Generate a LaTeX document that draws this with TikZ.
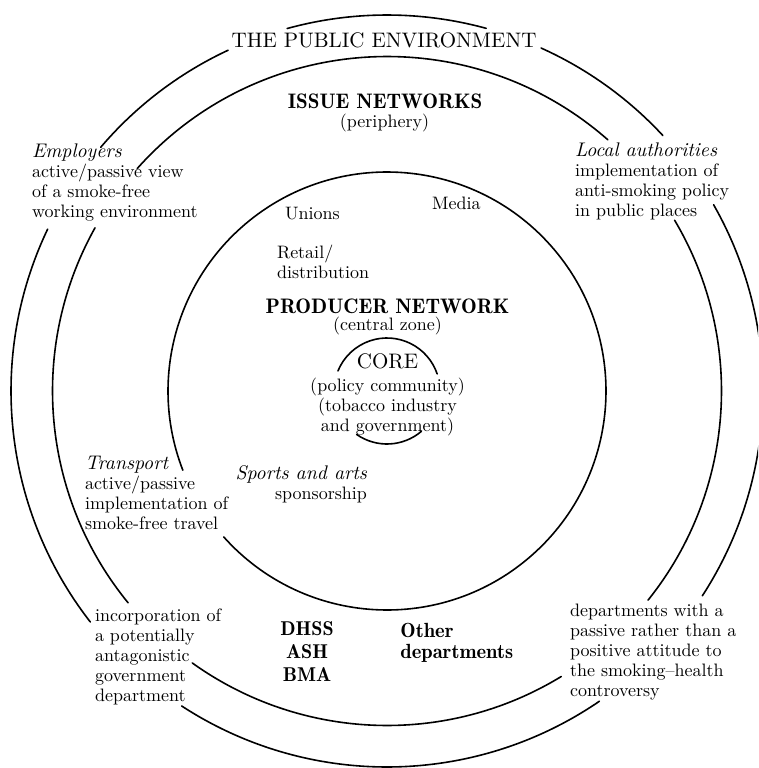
\documentclass[tikz,border=0pt]{standalone}
\usepackage{tikz}
\newcommand\fstrut{\rule{0pt}{8.333pt}}
\newcommand\ringarc[3]{\draw[ring] ([shift={(#1:#3pt)}]O) arc[start angle=#1, end angle=#2, radius=#3pt];}
\tikzset{
  ring/.style={line width=1.6pt, line cap=round},
  body/.style={font=\fontsize{10}{11.111}\selectfont, scale=1.8, inner sep=0pt, outer sep=0pt},
  titlefont/.style={font=\fontsize{10}{12}\selectfont, scale=2.1, inner sep=0pt},
  demi/.style={font=\fontsize{10}{12}\fontseries{b}\selectfont, scale=2.1, inner sep=0pt},
  demis/.style={font=\fontsize{10}{11.5}\fontseries{b}\selectfont, scale=2.0, inner sep=0pt},
  demio/.style={font=\fontsize{10}{10.5}\fontseries{b}\selectfont, scale=2.05, inner sep=0pt},
  corefont/.style={font=\fontsize{10}{12}\selectfont, scale=2.1, inner sep=0pt},
}
\newcommand\itl[1]{{\fontsize{10.95}{11.111}\selectfont\itshape #1}}
\begin{document}
\begin{tikzpicture}[x=1pt,y=1pt]
\fill[white] (0,0) rectangle (758,-768);
\useasboundingbox (0,0) rectangle (758,-768);
\clip (0,0) rectangle (758,-768);
\coordinate (O) at (387,-391);
% outer ring
\ringarc{74.7}{105.4}{376}
\ringarc{42.8}{65.8}{376}
\ringarc{-33}{29.7}{376}
\ringarc{236.9}{304.4}{376}
\ringarc{154.5}{217.9}{376}
\ringarc{115}{139.6}{376}
% middle ring
\ringarc{48.7}{138.3}{334.5}
\ringarc{150.8}{219.3}{334.5}
\ringarc{234.4}{301.4}{334.5}
\ringarc{-38.7}{30.7}{334.5}
% inner ring
\ringarc{221.8}{561.2}{219}
% core
\ringarc{18.8}{157.8}{53}
\ringarc{235}{310.5}{53}

% texts
\node[titlefont, anchor=base] (title) at (384,-48) {THE PUBLIC ENVIRONMENT};
\node[demi, anchor=base] (issue) at (385,-108) {ISSUE NETWORKS};
\node[body, anchor=base] (periph) at (384.5,-127) {(periphery)};
\node[body, anchor=base west] (unions) at (285,-219) {Unions};
\node[body, anchor=base west] (media) at (432,-209) {Media};
\node[body, align=left, anchor=north west] (retail) at (277,-243) {\fstrut Retail/\\distribution};
\node[demi, anchor=base] (producer) at (387.5,-313) {PRODUCER NETWORK};
\node[body, anchor=base] (central) at (387.5,-330) {(central zone)};
\node[corefont, anchor=base] (core) at (387.5,-368) {CORE};
\node[body, align=center, anchor=north] (coresub) at (387.5,-376) {\fstrut(policy community)\\(tobacco industry\\and government)};

\node[body, align=left, anchor=north west] (employers) at (32,-142)
  {\fstrut\itl{Employers}\\active/passive view\\of a smoke-free\\working environment};
\node[body, align=left, anchor=north west] (local) at (575,-141)
  {\fstrut\itl{Local authorities}\\implementation of\\anti-smoking policy\\in public places};
\node[body, align=left, anchor=north west] (transport) at (85,-454)
  {\fstrut\itl{Transport}\\active/passive\\implementation of\\smoke-free travel};
\node[body, align=right, anchor=north east] (sports) at (367,-464)
  {\fstrut\itl{Sports and arts}\\sponsorship};
\node[body, align=left, anchor=north west] (incorp) at (95,-606)
  {\fstrut incorporation of\\a potentially\\antagonistic\\government\\department};
\node[demis, align=center, anchor=north] (dhss) at (307,-620)
  {\rule{0pt}{7.5pt}DHSS\\ASH\\BMA};
\node[demio, align=left, anchor=north west] (otherdep) at (400,-622)
  {\rule{0pt}{7.3pt}Other\\departments};
\node[body, align=left, anchor=north west] (passive) at (570,-601)
  {\fstrut departments with a\\passive rather than a\\positive attitude to\\the smoking--health\\controversy};
\end{tikzpicture}
\end{document}
